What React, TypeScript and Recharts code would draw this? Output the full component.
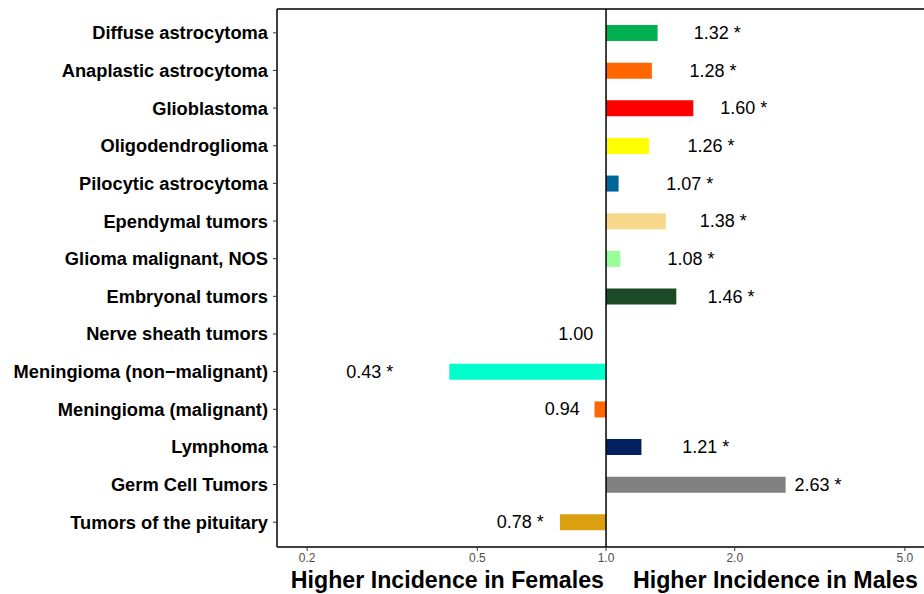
import { ComposedChart, Bar, XAxis, YAxis, Cell, ReferenceLine } from "recharts";

const categories = [
  "Diffuse astrocytoma",
  "Anaplastic astrocytoma",
  "Glioblastoma",
  "Oligodendroglioma",
  "Pilocytic astrocytoma",
  "Ependymal tumors",
  "Glioma malignant, NOS",
  "Embryonal tumors",
  "Nerve sheath tumors",
  "Meningioma (non\u2212malignant)",
  "Meningioma (malignant)",
  "Lymphoma",
  "Germ Cell Tumors",
  "Tumors of the pituitary",
];

const ratios = [1.32, 1.28, 1.6, 1.26, 1.07, 1.38, 1.08, 1.46, 1.0, 0.43, 0.94, 1.21, 2.63, 0.78];

const significant = [true, true, true, true, true, true, true, true, false, true, false, true, true, true];

const barColors = [
  "#00B050",
  "#FF6600",
  "#FF0000",
  "#FFFF00",
  "#006699",
  "#F8D88C",
  "#99FF99",
  "#1A4B26",
  "#999999",
  "#00FFCC",
  "#FF6600",
  "#002060",
  "#808080",
  "#DAA010",
];

const xTicks = [0.2, 0.5, 1.0, 2.0, 5.0];
const xTickLabels = ["0.2", "0.5", "1.0", "2.0", "5.0"];

const FONT = "'Liberation Sans', Arial, sans-serif";
const X_DOMAIN = [0.17, 5.88];

const data = categories.map((name, i) => ({
  name,
  ratio: ratios[i],
  label: ratios[i].toFixed(2) + (significant[i] ? " *" : ""),
}));

// bars run from 1.0 (no difference) to the ratio
const barRange = (d: any) => [Math.min(1, d.ratio), Math.max(1, d.ratio)];
// label sits a bit beyond the bar end, in data units
const labelRange = (d: any) => (d.ratio > 1 ? [1, d.ratio + 0.5] : [d.ratio - 0.15, 1]);

const LabelShape = (props: any) => {
  const { x, y, width, height, payload } = props;
  const left = Math.min(x, x + width);
  const right = Math.max(x, x + width);
  const cx = payload.ratio > 1 ? right : left;
  return (
    <text
      x={cx}
      y={y + height / 2}
      textAnchor="middle"
      dominantBaseline="central"
      fontSize={18}
      fontFamily={FONT}
      fill="#000"
    >
      {payload.label}
    </text>
  );
};

const AxisTitle = (props: any) => {
  const { viewBox } = props;
  const cx = viewBox.x + viewBox.width / 2;
  const y = viewBox.y + 41;
  return (
    <g fontFamily={FONT} fontWeight="bold" fontSize={23.2} fill="#000">
      <text x={cx - 2} y={y} textAnchor="end">
        Higher Incidence in Females
      </text>
      <text x={cx + 27} y={y} textAnchor="start">
        Higher Incidence in Males
      </text>
    </g>
  );
};

export default function App() {
  return (
    <div
      style={{
        position: "fixed",
        left: 0,
        top: 0,
        width: 924,
        height: 594,
        overflow: "hidden",
        background: "#fff",
      }}
    >
      <ComposedChart
        width={940}
        height={594}
        layout="vertical"
        data={data}
        margin={{ top: 8, right: 5, bottom: 0, left: 0 }}
        barCategoryGap={0}
      >
        <XAxis
          type="number"
          scale="log"
          domain={X_DOMAIN}
          allowDataOverflow
          ticks={xTicks}
          tickFormatter={(v: number) => xTickLabels[xTicks.indexOf(v)] ?? String(v)}
          height={47}
          tickSize={4}
          tickMargin={2}
          tick={{ fontSize: 12, fill: "#4D4D4D", fontFamily: FONT }}
          tickLine={{ stroke: "#333" }}
          axisLine={{ stroke: "#000", strokeWidth: 1.5 }}
          label={<AxisTitle />}
        />
        <XAxis
          xAxisId="top"
          orientation="top"
          type="number"
          scale="log"
          domain={X_DOMAIN}
          allowDataOverflow
          height={1}
          tick={false}
          tickLine={false}
          axisLine={{ stroke: "#000", strokeWidth: 1.5 }}
        />
        <YAxis
          type="category"
          dataKey="name"
          width={277}
          tickSize={4}
          tickMargin={5}
          padding={{ top: 5, bottom: 6 }}
          interval={0}
          tick={{ fontSize: 18.3, fontWeight: "bold", fill: "#000", fontFamily: FONT }}
          tickLine={{ stroke: "#333" }}
          axisLine={{ stroke: "#000", strokeWidth: 1.5 }}
        />
        <YAxis yAxisId="lab" type="category" dataKey="name" hide padding={{ top: 5, bottom: 6 }} />
        <Bar dataKey={barRange} barSize={16} isAnimationActive={false}>
          {data.map((d, i) => (
            <Cell key={d.name} fill={barColors[i]} />
          ))}
        </Bar>
        <Bar
          xAxisId="top"
          yAxisId="lab"
          dataKey={labelRange}
          barSize={16}
          fill="none"
          isAnimationActive={false}
          shape={<LabelShape />}
        />
        <ReferenceLine x={1} stroke="#000" strokeWidth={1.5} />
      </ComposedChart>
    </div>
  );
}
